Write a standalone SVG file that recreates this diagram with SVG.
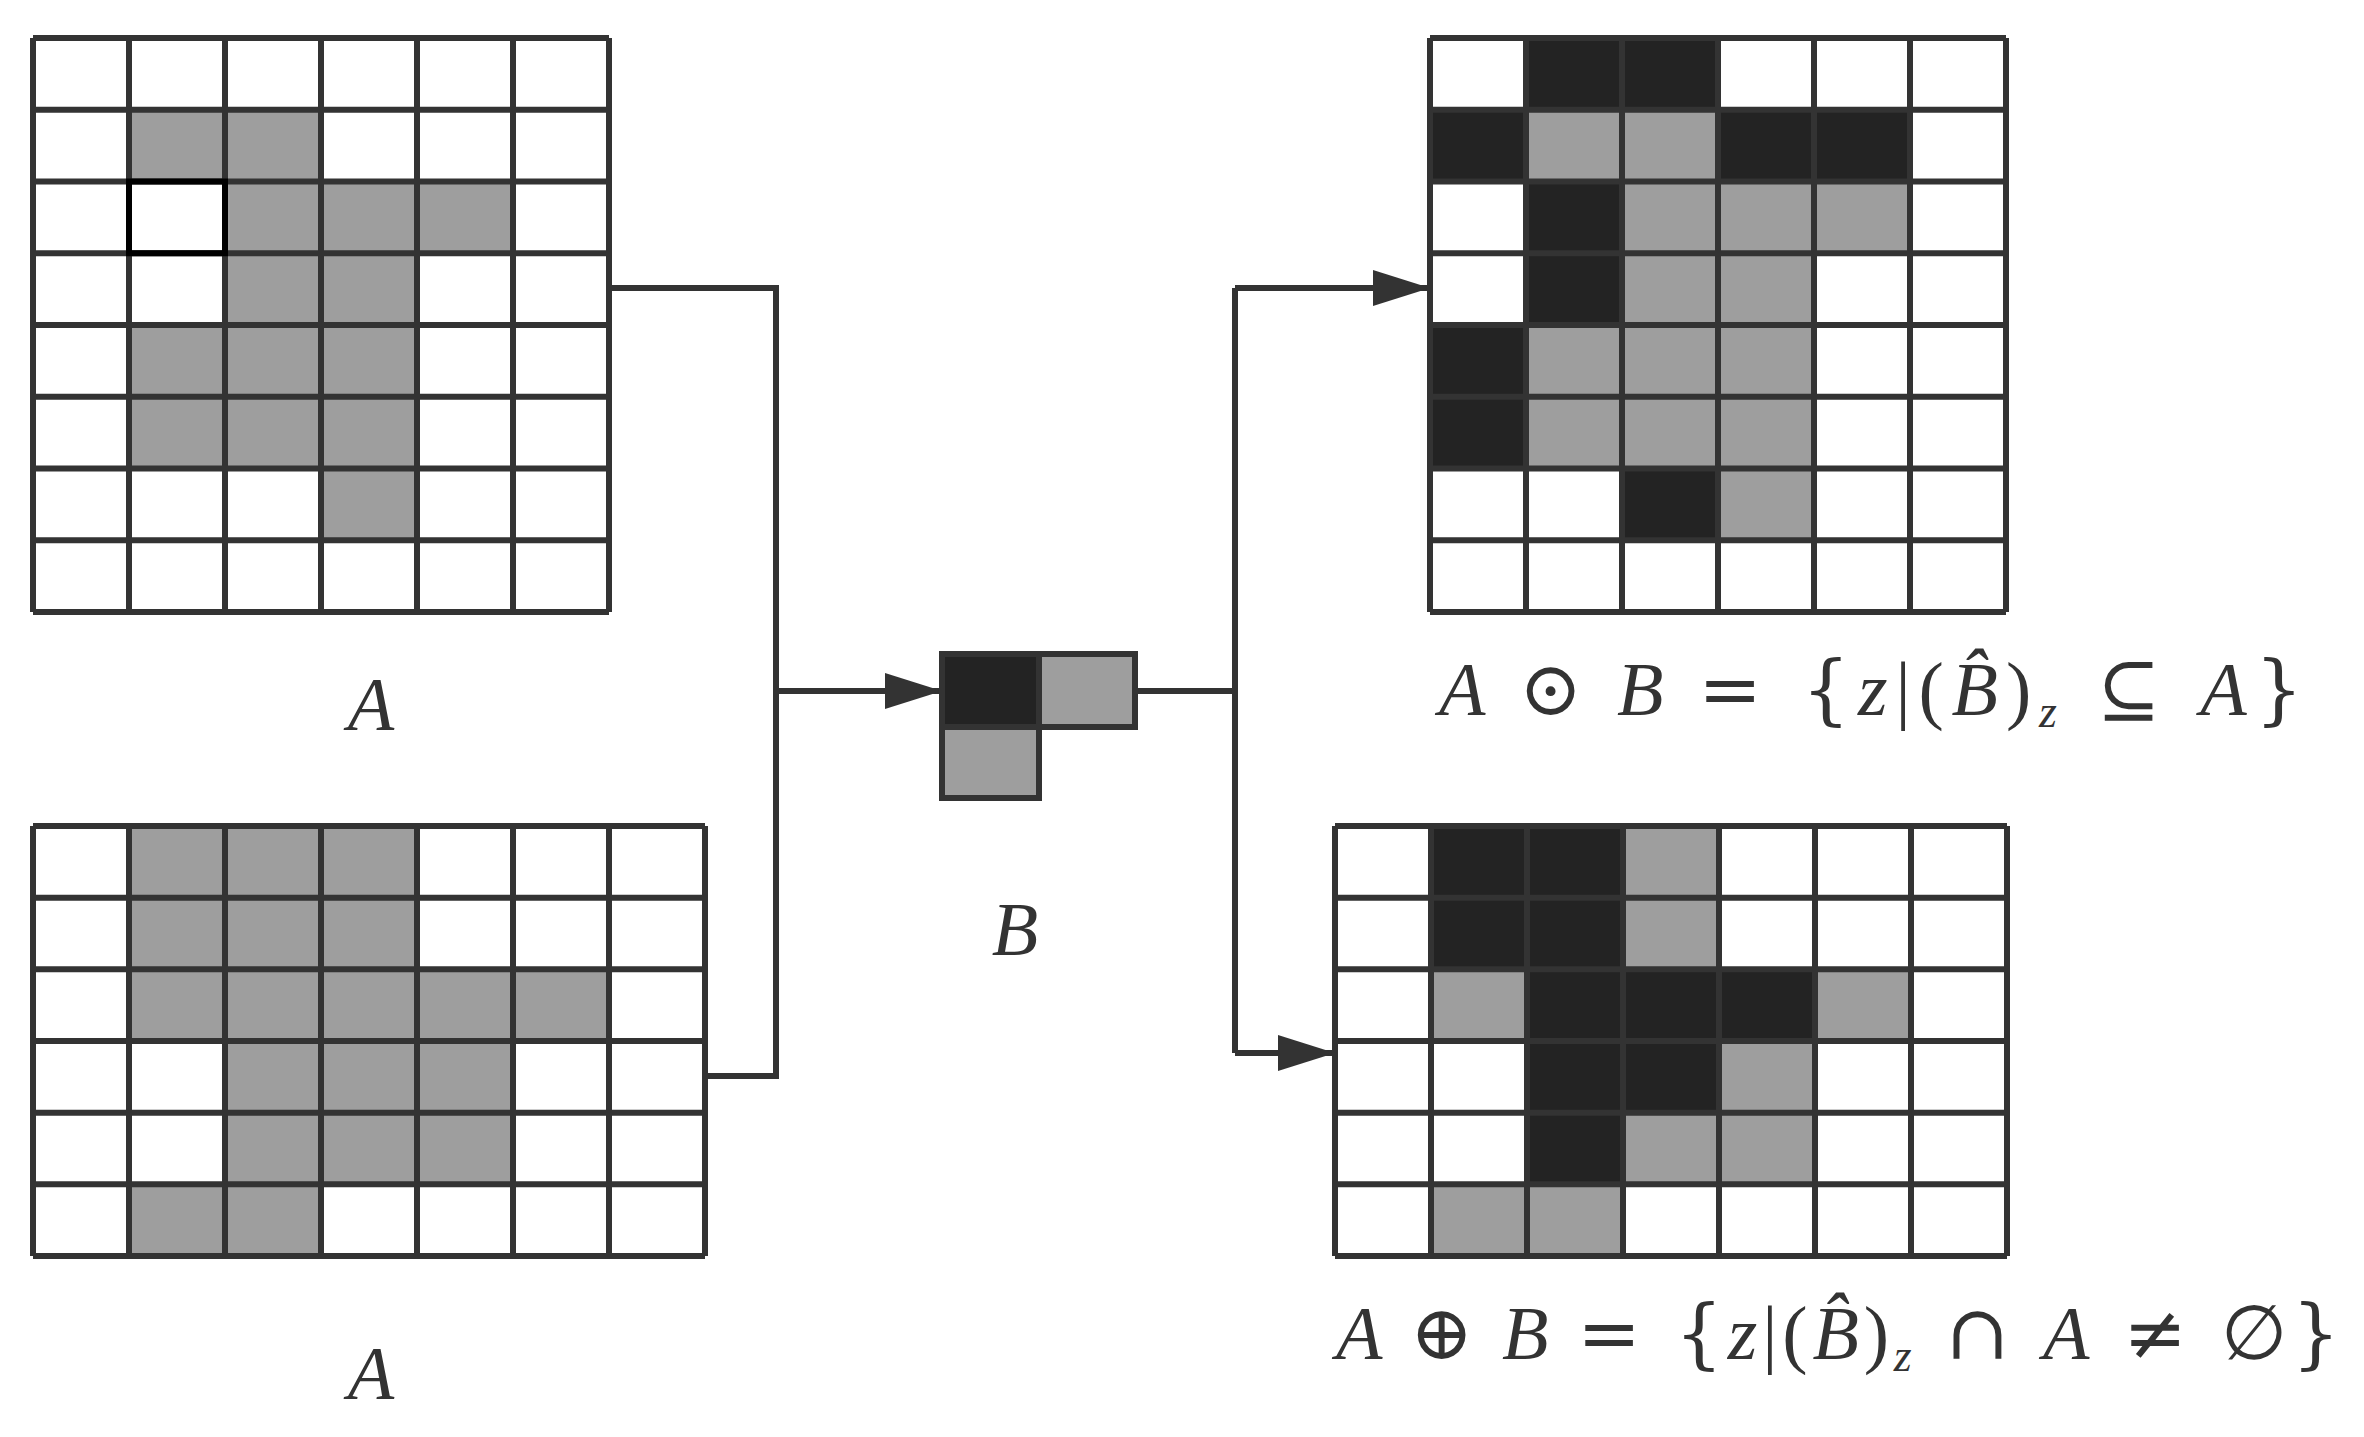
<svg xmlns="http://www.w3.org/2000/svg" width="2364" height="1437" viewBox="0 0 2364 1437">
<style>
.g{fill:#9e9e9e}.k{fill:#232323}
.ln{fill:none;stroke:#333;stroke-width:6}
.bg{fill:#fff}
.t{font-family:"Liberation Serif","DejaVu Serif",serif;font-style:italic;fill:#333}
.m{font-family:"DejaVu Serif","Liberation Serif",serif;fill:#333}
</style>
<defs>
<marker id="ah" markerUnits="userSpaceOnUse" markerWidth="57" markerHeight="36" refX="57" refY="18" orient="auto"><path d="M0,0 L57,18 L0,36 z" fill="#333"/></marker>
</defs>
<rect width="2364" height="1437" fill="#fff"/>
<g id="connectors" class="ln">
<path d="M609,288 H776 V1076 H705"/>
<path d="M776,691 H942" marker-end="url(#ah)"/>
<path d="M1135,691 H1235"/>
<path d="M1235,288 V1053"/>
<path d="M1235,288 H1430" marker-end="url(#ah)"/>
<path d="M1235,1053 H1335" marker-end="url(#ah)"/>
</g>
<g id="gridA1">
<rect class="bg" x="33" y="38" width="576" height="574"/>
<g class="g">
<rect x="129" y="109.75" width="96" height="71.75"/><rect x="225" y="109.75" width="96" height="71.75"/>
<rect x="225" y="181.5" width="96" height="71.75"/><rect x="321" y="181.5" width="96" height="71.75"/><rect x="417" y="181.5" width="96" height="71.75"/>
<rect x="225" y="253.25" width="96" height="71.75"/><rect x="321" y="253.25" width="96" height="71.75"/>
<rect x="129" y="325" width="96" height="71.75"/><rect x="225" y="325" width="96" height="71.75"/><rect x="321" y="325" width="96" height="71.75"/>
<rect x="129" y="396.75" width="96" height="71.75"/><rect x="225" y="396.75" width="96" height="71.75"/><rect x="321" y="396.75" width="96" height="71.75"/>
<rect x="321" y="468.5" width="96" height="71.75"/>
</g>
<path class="ln" d="M33,38V612M129,38V612M225,38V612M321,38V612M417,38V612M513,38V612M609,38V612M33,38H609M33,109.75H609M33,181.5H609M33,253.25H609M33,325H609M33,396.75H609M33,468.5H609M33,540.25H609M33,612H609"/>
<rect x="129" y="181.5" width="96" height="71.75" fill="none" stroke="#000" stroke-width="6"/>
<text class="t" x="371" y="730" font-size="76" text-anchor="middle">A</text>
</g>
<g id="gridA2">
<rect class="bg" x="33" y="826" width="672" height="430"/>
<g class="g">
<rect x="129" y="826" width="96" height="71.7"/><rect x="225" y="826" width="96" height="71.7"/><rect x="321" y="826" width="96" height="71.7"/>
<rect x="129" y="897.7" width="96" height="71.7"/><rect x="225" y="897.7" width="96" height="71.7"/><rect x="321" y="897.7" width="96" height="71.7"/>
<rect x="129" y="969.3" width="96" height="71.7"/><rect x="225" y="969.3" width="96" height="71.7"/><rect x="321" y="969.3" width="96" height="71.7"/><rect x="417" y="969.3" width="96" height="71.7"/><rect x="513" y="969.3" width="96" height="71.7"/>
<rect x="225" y="1041" width="96" height="71.7"/><rect x="321" y="1041" width="96" height="71.7"/><rect x="417" y="1041" width="96" height="71.7"/>
<rect x="225" y="1112.7" width="96" height="71.7"/><rect x="321" y="1112.7" width="96" height="71.7"/><rect x="417" y="1112.7" width="96" height="71.7"/>
<rect x="129" y="1184.3" width="96" height="71.7"/><rect x="225" y="1184.3" width="96" height="71.7"/>
</g>
<path class="ln" d="M33,826V1256M129,826V1256M225,826V1256M321,826V1256M417,826V1256M513,826V1256M609,826V1256M705,826V1256M33,826H705M33,897.7H705M33,969.3H705M33,1041H705M33,1112.7H705M33,1184.3H705M33,1256H705"/>
<text class="t" x="371" y="1399" font-size="76" text-anchor="middle">A</text>
</g>
<g id="B">
<rect class="k" x="942" y="654" width="97" height="73"/>
<rect class="g" x="1039" y="654" width="96" height="73"/>
<rect class="g" x="942" y="727" width="97" height="71"/>
<path class="ln" d="M942,654H1135V727H1039V798H942Z M942,727H1039V654"/>
<text class="t" x="1015" y="955" font-size="76" text-anchor="middle">B</text>
</g>
<g id="erosion">
<rect class="bg" x="1430" y="38" width="576" height="574"/>
<g class="k">
<rect x="1526" y="38" width="96" height="71.75"/><rect x="1622" y="38" width="96" height="71.75"/>
<rect x="1430" y="109.75" width="96" height="71.75"/><rect x="1718" y="109.75" width="96" height="71.75"/><rect x="1814" y="109.75" width="96" height="71.75"/>
<rect x="1526" y="181.5" width="96" height="71.75"/>
<rect x="1526" y="253.25" width="96" height="71.75"/>
<rect x="1430" y="325" width="96" height="71.75"/>
<rect x="1430" y="396.75" width="96" height="71.75"/>
<rect x="1622" y="468.5" width="96" height="71.75"/>
</g>
<g class="g">
<rect x="1526" y="109.75" width="96" height="71.75"/><rect x="1622" y="109.75" width="96" height="71.75"/>
<rect x="1622" y="181.5" width="96" height="71.75"/><rect x="1718" y="181.5" width="96" height="71.75"/><rect x="1814" y="181.5" width="96" height="71.75"/>
<rect x="1622" y="253.25" width="96" height="71.75"/><rect x="1718" y="253.25" width="96" height="71.75"/>
<rect x="1526" y="325" width="96" height="71.75"/><rect x="1622" y="325" width="96" height="71.75"/><rect x="1718" y="325" width="96" height="71.75"/>
<rect x="1526" y="396.75" width="96" height="71.75"/><rect x="1622" y="396.75" width="96" height="71.75"/><rect x="1718" y="396.75" width="96" height="71.75"/>
<rect x="1718" y="468.5" width="96" height="71.75"/>
</g>
<path class="ln" d="M1430,38V612M1526,38V612M1622,38V612M1718,38V612M1814,38V612M1910,38V612M2006,38V612M1430,38H2006M1430,109.75H2006M1430,181.5H2006M1430,253.25H2006M1430,325H2006M1430,396.75H2006M1430,468.5H2006M1430,540.25H2006M1430,612H2006"/>
<text class="t" x="1439" y="715" font-size="76" textLength="864" lengthAdjust="spacing">A <tspan class="m" font-style="normal">⊙</tspan> B <tspan class="m" font-style="normal">= {</tspan>z<tspan font-style="normal">|(</tspan>B̂<tspan font-style="normal">)</tspan><tspan font-size="46" dy="12">z</tspan><tspan class="m" font-style="normal" dy="-12"> ⊆ </tspan>A<tspan class="m" font-style="normal">}</tspan></text>
</g>
<g id="dilation">
<rect class="bg" x="1335" y="826" width="672" height="430"/>
<g class="k">
<rect x="1431" y="826" width="96" height="71.7"/><rect x="1527" y="826" width="96" height="71.7"/>
<rect x="1431" y="897.7" width="96" height="71.7"/><rect x="1527" y="897.7" width="96" height="71.7"/>
<rect x="1527" y="969.3" width="96" height="71.7"/><rect x="1623" y="969.3" width="96" height="71.7"/><rect x="1719" y="969.3" width="96" height="71.7"/>
<rect x="1527" y="1041" width="96" height="71.7"/><rect x="1623" y="1041" width="96" height="71.7"/>
<rect x="1527" y="1112.7" width="96" height="71.7"/>
</g>
<g class="g">
<rect x="1623" y="826" width="96" height="71.7"/>
<rect x="1623" y="897.7" width="96" height="71.7"/>
<rect x="1431" y="969.3" width="96" height="71.7"/><rect x="1815" y="969.3" width="96" height="71.7"/>
<rect x="1719" y="1041" width="96" height="71.7"/>
<rect x="1623" y="1112.7" width="96" height="71.7"/><rect x="1719" y="1112.7" width="96" height="71.7"/>
<rect x="1431" y="1184.3" width="96" height="71.7"/><rect x="1527" y="1184.3" width="96" height="71.7"/>
</g>
<path class="ln" d="M1335,826V1256M1431,826V1256M1527,826V1256M1623,826V1256M1719,826V1256M1815,826V1256M1911,826V1256M2007,826V1256M1335,826H2007M1335,897.7H2007M1335,969.3H2007M1335,1041H2007M1335,1112.7H2007M1335,1184.3H2007M1335,1256H2007"/>
<text class="t" x="1336" y="1359" font-size="76" textLength="1004" lengthAdjust="spacing">A <tspan class="m" font-style="normal">⊕</tspan> B <tspan class="m" font-style="normal">= {</tspan>z<tspan font-style="normal">|(</tspan>B̂<tspan font-style="normal">)</tspan><tspan font-size="46" dy="12">z</tspan><tspan class="m" font-style="normal" dy="-12"> ∩ </tspan>A<tspan class="m" font-style="normal"> ≠ ∅}</tspan></text>
</g>
</svg>
